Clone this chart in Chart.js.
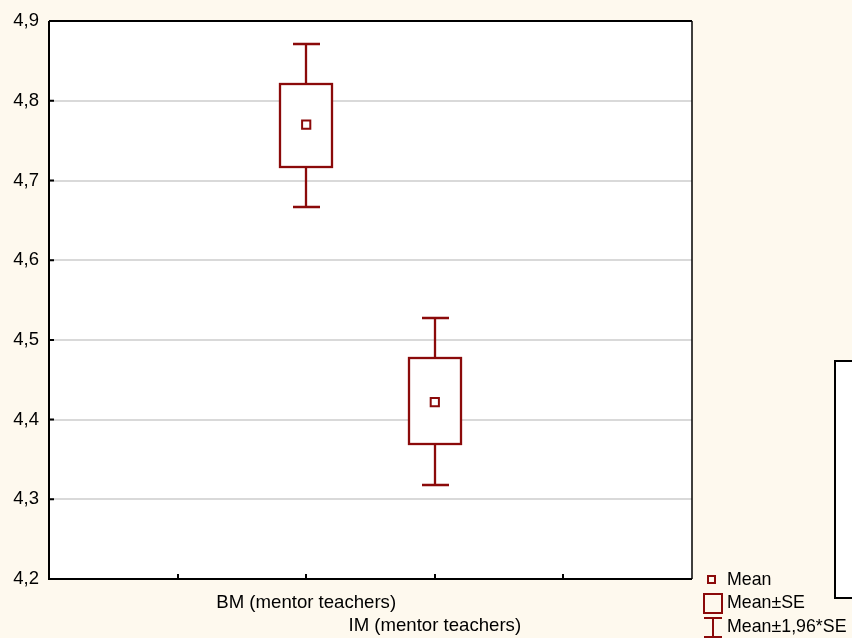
<!DOCTYPE html>
<html>
<head>
<meta charset="utf-8">
<script src="https://cdn.jsdelivr.net/npm/chart.js@4.4.0/dist/chart.umd.min.js"></script>
<style>
  html, body { margin: 0; padding: 0; background: #FEF9EE; }
  #wrap { width: 852px; height: 638px; }
</style>
</head>
<body>
<div id="wrap"><canvas id="c" width="852" height="638"></canvas></div>
<script>
// ---- data ----
const categories = ["BM (mentor teachers)", "IM (mentor teachers)"];
const catPositions = [2, 3];
const means = [4.770, 4.422];
const seLow = [4.717, 4.370];
const seHigh = [4.821, 4.477];
const ciLow = [4.667, 4.318];
const ciHigh = [4.871, 4.528];
const yTicks = [4.2, 4.3, 4.4, 4.5, 4.6, 4.7, 4.8, 4.9];
const xTickPositions = [1, 2, 3, 4];
const legendLabels = ["Mean", "Mean\u00B1SE", "Mean\u00B11,96*SE"];

const RED = '#8B0A0A';
const FONT = '"Liberation Sans", Arial, sans-serif';

const boxPlugin = {
  id: 'boxPlugin',
  beforeDraw(chart) {
    const ctx = chart.ctx, a = chart.chartArea;
    ctx.save();
    ctx.fillStyle = '#FEF9EE';
    ctx.fillRect(0, 0, chart.width, chart.height);
    ctx.fillStyle = '#FFFFFF';
    ctx.fillRect(a.left, a.top, a.right - a.left, a.bottom - a.top);
    ctx.restore();
  },
  beforeDatasetsDraw(chart) {
    const ctx = chart.ctx, xs = chart.scales.x, ys = chart.scales.y;
    ctx.save();
    ctx.strokeStyle = RED;
    ctx.lineWidth = 2.3;
    for (let i = 0; i < categories.length; i++) {
      const cx = Math.round(xs.getPixelForValue(catPositions[i]));
      const yHi = Math.round(ys.getPixelForValue(ciHigh[i]));
      const yLo = Math.round(ys.getPixelForValue(ciLow[i]));
      const bHi = Math.round(ys.getPixelForValue(seHigh[i]));
      const bLo = Math.round(ys.getPixelForValue(seLow[i]));
      // whiskers
      ctx.beginPath();
      ctx.moveTo(cx, yHi); ctx.lineTo(cx, bHi);
      ctx.moveTo(cx, bLo); ctx.lineTo(cx, yLo);
      ctx.moveTo(cx - 13, yHi); ctx.lineTo(cx + 14, yHi);
      ctx.moveTo(cx - 13, yLo); ctx.lineTo(cx + 14, yLo);
      ctx.stroke();
      // box
      ctx.fillStyle = '#FFFFFF';
      ctx.fillRect(cx - 26, bHi, 52, bLo - bHi);
      ctx.strokeRect(cx - 26, bHi, 52, bLo - bHi);
    }
    ctx.restore();
  },
  afterDraw(chart) {
    const ctx = chart.ctx, a = chart.chartArea, xs = chart.scales.x, ys = chart.scales.y;
    ctx.save();
    // frame
    ctx.strokeStyle = '#000';
    ctx.lineWidth = 2;
    ctx.beginPath();
    ctx.moveTo(a.left, a.top); ctx.lineTo(a.left, a.bottom); ctx.lineTo(a.right, a.bottom);
    ctx.moveTo(a.left, a.top); ctx.lineTo(a.right, a.top);
    ctx.stroke();
    ctx.lineWidth = 1.5;
    ctx.beginPath();
    ctx.moveTo(a.right, a.top); ctx.lineTo(a.right, a.bottom);
    ctx.stroke();
    // y tick marks inside
    ctx.lineWidth = 2;
    ctx.beginPath();
    yTicks.forEach(v => {
      const y = ys.getPixelForValue(v);
      ctx.moveTo(a.left, y); ctx.lineTo(a.left + 5, y);
    });
    // x tick marks inside
    xTickPositions.forEach(v => {
      const x = Math.round(xs.getPixelForValue(v));
      ctx.moveTo(x, a.bottom); ctx.lineTo(x, a.bottom - 5);
    });
    ctx.stroke();
    // x category labels (staggered)
    ctx.fillStyle = '#000';
    ctx.font = '18.6px ' + FONT;
    ctx.textAlign = 'center';
    ctx.textBaseline = 'middle';
    categories.forEach((c, i) => {
      const x = xs.getPixelForValue(catPositions[i]);
      ctx.fillText(c, x, a.bottom + 24 + i * 23);
    });
    // legend
    ctx.strokeStyle = RED;
    ctx.lineWidth = 2;
    ctx.fillStyle = '#FFFFFF';
    ctx.strokeRect(708, 576, 7, 7);
    ctx.strokeRect(704, 594, 18, 19);
    ctx.beginPath();
    ctx.moveTo(704, 618); ctx.lineTo(722, 618);
    ctx.moveTo(713, 618); ctx.lineTo(713, 638);
    ctx.moveTo(704, 637); ctx.lineTo(722, 637);
    ctx.stroke();
    ctx.fillStyle = '#000';
    ctx.textAlign = 'left';
    ctx.font = '17.8px ' + FONT;
    ctx.fillText(legendLabels[0], 727, 580);
    ctx.fillText(legendLabels[1], 727, 603);
    ctx.fillText(legendLabels[2], 727, 627);
    // partial box at right
    ctx.fillStyle = '#FFFFFF';
    ctx.fillRect(835, 361, 20, 237);
    ctx.strokeStyle = '#000';
    ctx.lineWidth = 2;
    ctx.beginPath();
    ctx.moveTo(860, 361); ctx.lineTo(835, 361); ctx.lineTo(835, 598); ctx.lineTo(860, 598);
    ctx.stroke();
    ctx.restore();
  }
};

new Chart(document.getElementById('c'), {
  type: 'scatter',
  data: {
    datasets: [{
      data: catPositions.map((x, i) => ({ x: x, y: means[i] })),
      pointStyle: 'rect',
      pointRadius: 5.8,
      pointBorderWidth: 2,
      borderColor: RED,
      backgroundColor: '#FFFFFF',
      pointHoverRadius: 5.8
    }]
  },
  options: {
    responsive: false,
    animation: false,
    devicePixelRatio: 1,
    layout: { padding: { top: 20, right: 160, left: 0, bottom: 0 } },
    plugins: { legend: { display: false }, tooltip: { enabled: false } },
    scales: {
      x: {
        type: 'linear', min: 0, max: 5,
        grid: { display: false },
        border: { display: false },
        ticks: { display: false },
        afterFit(s) { s.height = 59; }
      },
      y: {
        type: 'linear', min: 4.2, max: 4.9,
        afterBuildTicks(s) { s.ticks = yTicks.map(v => ({ value: v })); },
        afterFit(s) { s.width = 49; },
        border: { display: false },
        grid: {
          drawTicks: false,
          lineWidth: 2,
          color: (c) => (c.tick && (Math.abs(c.tick.value - 4.2) < 1e-6 || Math.abs(c.tick.value - 4.9) < 1e-6)) ? 'rgba(0,0,0,0)' : '#D9D9D9'
        },
        ticks: {
          padding: 10,
          color: '#000',
          font: { family: FONT, size: 18.5 },
          callback: (v) => Number(v).toFixed(1).replace('.', ',')
        }
      }
    }
  },
  plugins: [boxPlugin]
});
</script>
</body>
</html>
